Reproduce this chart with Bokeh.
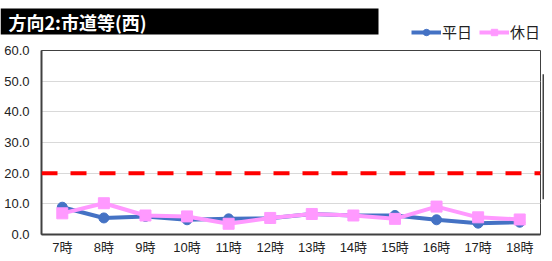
from bokeh.plotting import figure
from bokeh.layouts import column, row
from bokeh.models import (FactorRange, Range1d, Span, Label, BoxAnnotation, Legend, LegendItem,
                          SingleIntervalTicker, PrintfTickFormatter)
from bokeh.embed import file_html
from bokeh.resources import INLINE

hours = ["7時", "8時", "9時", "10時", "11時", "12時", "13時", "14時", "15時", "16時", "17時", "18時"]
weekday = [8.9, 5.4, 5.9, 4.8, 5.1, 5.3, 6.7, 6.2, 6.2, 4.8, 3.7, 4.0]
holiday = [6.9, 10.2, 6.2, 5.9, 3.5, 5.4, 6.7, 6.2, 5.1, 9.1, 5.6, 4.9]
threshold = 20.0
title_text = "方向2:市道等(西)"
series_names = ["平日", "休日"]
colors = ["#4472C4", "#FF99FF"]

FONT = "Liberation Sans, Noto Sans CJK JP"
JP = "Noto Sans CJK JP"


def bare(fig):
    fig.axis.visible = False
    fig.grid.visible = False
    fig.outline_line_color = None
    fig.background_fill_color = "white"
    fig.border_fill_color = "white"


# ---------- header (title box + legend) ----------
hdr = figure(width=544, height=42, x_range=Range1d(0, 544), y_range=Range1d(42, 0),
             output_backend="svg", toolbar_location=None,
             min_border=0, min_border_left=0, min_border_right=0,
             min_border_top=0, min_border_bottom=0)
bare(hdr)
hdr.add_layout(BoxAnnotation(left=0, right=378, top=8, bottom=34,
                             fill_color="black", fill_alpha=1, line_color=None))
hdr.add_layout(Label(x=8, y=21, text=title_text, text_color="white", text_font=JP,
                     text_font_style="bold", text_font_size="18px",
                     text_baseline="middle", text_align="left"))

# legend proxies (kept outside the visible header range)
l1 = hdr.line([-50, -40], [-50, -50], line_color=colors[0], line_width=4)
s1 = hdr.scatter([-45], [-50], marker="circle", size=10, fill_color=colors[0], line_color=colors[0])
l2 = hdr.line([-50, -40], [-50, -50], line_color=colors[1], line_width=4)
s2 = hdr.scatter([-45], [-50], marker="square", size=11, fill_color=colors[1], line_color=colors[1])
legend = Legend(items=[LegendItem(label=series_names[0], renderers=[l1, s1]),
                       LegendItem(label=series_names[1], renderers=[l2, s2])],
                location=(411, 0), orientation="horizontal",
                glyph_width=30, glyph_height=16, label_height=16, label_standoff=1,
                spacing=7, padding=0, margin=0, border_line_color=None,
                background_fill_alpha=0,
                label_text_font=JP, label_text_font_size="15px",
                label_text_line_height=1.0,
                label_text_color="#222222")
hdr.add_layout(legend)

# ---------- main chart ----------
p = figure(frame_width=499, frame_height=184, x_range=FactorRange(*hours), y_range=(0, 60),
           output_backend="svg", toolbar_location=None,
           min_border_left=41, min_border_right=1, min_border_top=8, min_border_bottom=0)
p.background_fill_color = "white"
p.border_fill_color = "white"
p.outline_line_color = "#404040"
p.outline_line_width = 1

p.yaxis.ticker = SingleIntervalTicker(interval=10)
p.yaxis.formatter = PrintfTickFormatter(format="%.1f")
for ax in (p.xaxis[0], p.yaxis[0]):
    ax.major_tick_line_color = None
    ax.minor_tick_line_color = None
    ax.major_tick_out = 0
    ax.major_tick_in = 0
    ax.minor_tick_out = 0
    ax.minor_tick_in = 0
    ax.axis_line_color = "#404040"
    ax.axis_line_width = 2
    ax.major_label_text_font = FONT
    ax.major_label_text_font_size = "13px"
    ax.major_label_text_color = "#222222"
p.yaxis.major_label_standoff = 12
p.xaxis.major_label_standoff = 5
p.xgrid.grid_line_color = None
p.ygrid.grid_line_color = "#d9d9d9"
p.ygrid.grid_line_width = 1

p.add_layout(Span(location=threshold, dimension="width", line_color="#ff0000",
                  line_width=4, line_dash="16 13"))

p.line(hours, weekday, line_color=colors[0], line_width=4)
p.scatter(hours, weekday, marker="circle", size=10, fill_color=colors[0], line_color=colors[0])
p.line(hours, holiday, line_color=colors[1], line_width=4)
p.scatter(hours, holiday, marker="square", size=11, fill_color=colors[1], line_color=colors[1])

# ---------- thin dark side bar ----------
bar = figure(width=3, height=200, x_range=Range1d(0, 3), y_range=Range1d(200, 0),
             output_backend="svg", toolbar_location=None,
             min_border=0, min_border_left=0, min_border_right=0,
             min_border_top=0, min_border_bottom=0)
bare(bar)
bar.add_layout(BoxAnnotation(left=1, right=3, top=28, bottom=176,
                             fill_color="#444444", fill_alpha=1, line_color=None))

layout = column(hdr, row(p, bar, spacing=0), spacing=0)
open("out.html", "w").write(file_html(layout, INLINE))
